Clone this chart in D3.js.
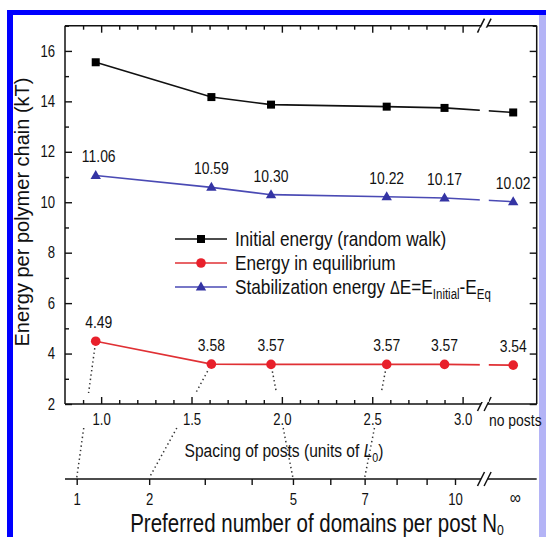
<!DOCTYPE html>
<html>
<head>
<meta charset="utf-8">
<script src="https://cdn.jsdelivr.net/npm/d3@7"></script>
<style>
  body { margin: 0; background: #fff; }
  svg text { font-family: "Liberation Sans", Arial, sans-serif; fill: #111; }
</style>
</head>
<body>
<div id="chart"></div>
<script>
// data
// spacing of posts (units of L0); last entry is the "no posts" slot after the axis break
const spacing = [0.97, 1.61, 1.94, 2.58, 2.9, 3.28];
const initialEnergy = [15.55, 14.17, 13.87, 13.79, 13.74, 13.56];
const equilEnergy = [4.49, 3.58, 3.57, 3.57, 3.57, 3.54];
const stabEnergy = [11.06, 10.59, 10.3, 10.22, 10.17, 10.02];
// preferred number of domains linked to the first equilibrium points
const linkN0 = [1, 2, 5, 7];

const yMajor = [2, 4, 6, 8, 10, 12, 14, 16];
const yMinor = [3, 5, 7, 9, 11, 13, 15, 17];
const xMajor = [1.0, 1.5, 2.0, 2.5, 3.0];
const xMinor = [0.9, 1.1, 1.2, 1.3, 1.4, 1.6, 1.7, 1.8, 1.9, 2.1, 2.2, 2.3, 2.4, 2.6, 2.7, 2.8, 2.9];
const n0Ticks = [1, 2, 3, 4, 5, 6, 7, 8, 9, 10];
const n0Labels = [1, 2, 5, 7, 10];

const width = 546,
  height = 537;
const xLeft = 65,
  xRight = 536.7,
  yTop = 25.7,
  yBottom = 404;

// the figure uses a narrow sans face; squeeze the text horizontally around its anchor
const squeeze = 0.82;
function narrow(sel) {
  sel.each(function () {
    const t = d3.select(this);
    const x0 = +t.attr("x") || 0;
    t.attr("transform", `translate(${x0 * (1 - squeeze)},0) scale(${squeeze},1)`);
  });
}

const svg = d3
  .select("#chart")
  .append("svg")
  .attr("width", width)
  .attr("height", height);

// blue frame of the page
svg.append("rect").attr("width", width).attr("height", height).attr("fill", "#fff");
svg.append("rect").attr("x", 7).attr("y", 10).attr("width", 545).attr("height", 540).attr("fill", "#0000ff");
svg.append("rect").attr("x", 13).attr("y", 15).attr("width", 526).attr("height", 530).attr("fill", "#fff");
svg.append("rect").attr("x", 539).attr("y", 15).attr("width", 8).attr("height", 530).attr("fill", "#b4b4f6");

const x = d3.scaleLinear().domain([0.8, 3.41]).range([xLeft, xRight]);
const y = d3.scaleLinear().domain([2, 17]).range([yBottom, yTop]);
const n0 = d3.scaleSqrt().domain([1, 10]).range([76.7, 455]);

const breakX = x(3.12);
const n0Y = 479;

// axes: ticks pointing inward
function ticks(axis, g, values, size) {
  g.call(axis.tickValues(values).tickSize(size).tickFormat(""));
  g.select(".domain").remove();
  g.selectAll(".tick line").attr("stroke", "#111").attr("stroke-width", 1.4);
}

const gL = svg.append("g").attr("transform", `translate(${xLeft},0)`);
gL.call(d3.axisLeft(y).tickValues(yMajor).tickSize(-7).tickPadding(10));
gL.select(".domain").remove();
gL.selectAll(".tick line").attr("stroke", "#111").attr("stroke-width", 1.4);
gL.selectAll(".tick text").attr("font-family", null).attr("font-size", null).style("font-size", "16px").call(narrow);
ticks(d3.axisLeft(y), svg.append("g").attr("transform", `translate(${xLeft},0)`), yMinor, -4);

ticks(d3.axisLeft(y), svg.append("g").attr("transform", `translate(${xRight},0)`), yMajor, 7);
ticks(d3.axisLeft(y), svg.append("g").attr("transform", `translate(${xRight},0)`), yMinor, 4);

const gB = svg.append("g").attr("transform", `translate(0,${yBottom})`);
gB.call(d3.axisBottom(x).tickValues(xMajor).tickSize(-7).tickPadding(10).tickFormat(d3.format(".1f")));
gB.select(".domain").remove();
gB.selectAll(".tick line").attr("stroke", "#111").attr("stroke-width", 1.4);
gB.selectAll(".tick text").attr("font-family", null).style("font-size", "16px").call(narrow);
ticks(d3.axisBottom(x), svg.append("g").attr("transform", `translate(0,${yBottom})`), xMinor, -4);

ticks(d3.axisTop(x), svg.append("g").attr("transform", `translate(0,${yTop})`), xMajor, -7);
ticks(d3.axisTop(x), svg.append("g").attr("transform", `translate(0,${yTop})`), xMinor, -4);

// frame with breaks
const frame = svg.append("g").attr("stroke", "#111").attr("stroke-width", 1.5).attr("fill", "none");
frame.append("line").attr("x1", xLeft).attr("x2", xLeft).attr("y1", yTop).attr("y2", yBottom);
frame.append("line").attr("x1", xRight).attr("x2", xRight).attr("y1", yTop).attr("y2", yBottom);
[yTop, yBottom, n0Y].forEach((yy) => {
  frame.append("line").attr("x1", xLeft).attr("x2", breakX - 3.3).attr("y1", yy).attr("y2", yy);
  frame.append("line").attr("x1", breakX + 3.3).attr("x2", xRight).attr("y1", yy).attr("y2", yy);
  [-3.3, 3.3].forEach((dx) => {
    frame
      .append("line")
      .attr("x1", breakX + dx - 3.5)
      .attr("y1", yy + 7)
      .attr("x2", breakX + dx + 3.5)
      .attr("y2", yy - 7);
  });
});

// "no posts" label after the break
svg
  .append("text")
  .attr("x", 489)
  .attr("y", 426)
  .style("font-size", "17px")
  .text("no posts")
  .call(narrow);

// N0 axis
const gN = svg.append("g").attr("transform", `translate(0,${n0Y})`);
gN.call(d3.axisBottom(n0).tickValues(n0Ticks).tickSize(6).tickPadding(9).tickFormat((d) => (n0Labels.includes(d) ? d : "")));
gN.select(".domain").remove();
gN.selectAll(".tick line").attr("stroke", "#111").attr("stroke-width", 1.4);
gN.selectAll(".tick text").attr("font-family", null).style("font-size", "16px").call(narrow);
svg
  .append("text")
  .attr("x", x(spacing[5]) + 2)
  .attr("y", n0Y + 25)
  .attr("text-anchor", "middle")
  .style("font-size", "19px")
  .text("\u221e")
  .call(narrow);

// dotted links from equilibrium points to the N0 axis
const links = svg.append("g").attr("stroke", "#333").attr("stroke-width", 1.5).attr("stroke-dasharray", "1.4,3").attr("fill", "none");
linkN0.forEach((v, i) => {
  const px = x(spacing[i]),
    py = y(equilEnergy[i]);
  const qx = n0(v),
    qy = n0Y;
  const at = (yy) => px + ((qx - px) * (yy - py)) / (qy - py);
  links.append("line").attr("x1", at(py + 7)).attr("y1", py + 7).attr("x2", at(393)).attr("y2", 393);
  links.append("line").attr("x1", at(428)).attr("y1", 428).attr("x2", qx).attr("y2", qy - 1);
});

// series
const series = [
  { values: initialEnergy, color: "#000", line: "#111", shape: "square", labels: false },
  { values: equilEnergy, color: "#e8202b", line: "#e03034", shape: "circle", labels: true },
  { values: stabEnergy, color: "#3434a4", line: "#4a4ab4", shape: "triangle", labels: true },
];

const line = d3
  .line()
  .x((d, i) => x(spacing[i]))
  .y((d) => y(d));

series.forEach((s) => {
  svg.append("path").datum(s.values).attr("d", line).attr("fill", "none").attr("stroke", s.line).attr("stroke-width", 1.6);
});

// gap in the lines at the axis break
svg.append("rect").attr("x", breakX - 4.5).attr("y", yTop + 2).attr("width", 9).attr("height", yBottom - yTop - 4).attr("fill", "#fff");

function marker(g, shape, color, cx, cy) {
  if (shape === "square") {
    g.append("rect").attr("x", cx - 4).attr("y", cy - 4).attr("width", 8).attr("height", 8).attr("fill", color);
  } else if (shape === "circle") {
    g.append("circle").attr("cx", cx).attr("cy", cy).attr("r", 4.8).attr("fill", color);
  } else {
    g.append("path")
      .attr("d", `M${cx},${cy - 5.5}L${cx + 5.2},${cy + 3.5}L${cx - 5.2},${cy + 3.5}Z`)
      .attr("fill", color);
  }
}

series.forEach((s) => {
  const g = svg.append("g");
  s.values.forEach((v, i) => marker(g, s.shape, s.color, x(spacing[i]), y(v)));
  if (s.labels) {
    svg
      .append("g")
      .selectAll("text")
      .data(s.values)
      .join("text")
      .attr("x", (d, i) => x(spacing[i]) + (i === 0 ? 3 : 0))
      .attr("y", (d) => y(d) - 13)
      .attr("text-anchor", "middle")
      .style("font-size", "17px")
      .text((d) => d.toFixed(2))
      .call(narrow);
  }
});

// legend
const legendRows = [239, 263, 287];
const legend = svg.append("g");
series.forEach((s, i) => {
  const ly = legendRows[i];
  legend.append("line").attr("x1", 175).attr("x2", 227).attr("y1", ly).attr("y2", ly).attr("stroke", s.line).attr("stroke-width", 1.6);
  marker(legend, s.shape, s.color, 201, ly);
});
const legendText = legend.append("g").style("font-size", "21px");
legendText.append("text").attr("x", 235).attr("y", legendRows[0] + 7).text("Initial energy (random walk)");
legendText.append("text").attr("x", 235).attr("y", legendRows[1] + 7).text("Energy in equilibrium");
const t3 = legendText.append("text").attr("x", 235).attr("y", legendRows[2] + 7);
t3.append("tspan").text("Stabilization energy ");
t3.append("tspan").style("font-size", "18px").text("\u0394");
t3.append("tspan").text("E=E");
t3.append("tspan").attr("dy", 5).style("font-size", "14px").text("Initial");
t3.append("tspan").attr("dy", -5).text("-E");
t3.append("tspan").attr("dy", 5).style("font-size", "14px").text("Eq");
legendText.selectAll("text").call(narrow);

// axis titles
svg
  .append("text")
  .attr("transform", `translate(29,212) rotate(-90)`)
  .attr("text-anchor", "middle")
  .style("font-size", "20px")
  .text("Energy per polymer chain (kT)");

const xt = svg.append("text").attr("x", 284).attr("y", 457).attr("text-anchor", "middle").style("font-size", "19px");
xt.append("tspan").text("Spacing of posts (units of ");
xt.append("tspan").style("font-style", "italic").text("L");
xt.append("tspan").attr("dy", 5).style("font-size", "13px").text("0");
xt.append("tspan").attr("dy", -5).text(")");
xt.call(narrow);

const bt = svg.append("text").attr("x", 317).attr("y", 532).attr("text-anchor", "middle").style("font-size", "25px");
bt.append("tspan").text("Preferred number of domains per post N");
bt.append("tspan").attr("dy", 3).style("font-size", "15px").text("0");
bt.call(narrow);
</script>
</body>
</html>
